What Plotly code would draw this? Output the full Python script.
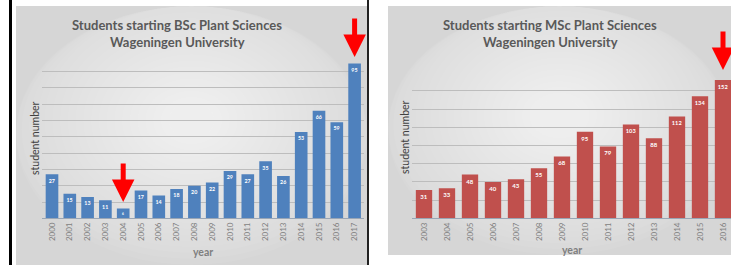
import plotly.graph_objects as go

# ---------------- data ----------------
bsc_years = ['2000', '2001', '2002', '2003', '2004', '2005', '2006', '2007', '2008',
             '2009', '2010', '2011', '2012', '2013', '2014', '2015', '2016', '2017']
bsc_students = [27, 15, 13, 11, 6, 17, 14, 18, 20, 22, 29, 27, 35, 26, 53, 66, 59, 95]

msc_years = ['2003', '2004', '2005', '2006', '2007', '2008', '2009',
             '2010', '2011', '2012', '2013', '2014', '2015', '2016']
msc_students = [31, 33, 48, 40, 43, 55, 68, 95, 79, 103, 88, 112, 134, 152]

bsc_title = 'Students starting BSc Plant Sciences'
msc_title = 'Students starting MSc Plant Sciences'
subtitle = 'Wageningen University'
y_title = 'student number'
x_title = 'year'

# highlighted years (red arrows)
bsc_marked = ['2004', '2017']
msc_marked = ['2016']

# ---------------- layout helpers ----------------
W, H = 731, 265
FONT = 'Lato, "Open Sans", sans-serif'
TXT = '#595959'


def px(x):
    return x / W


def py(y):
    return 1 - y / H


fig = go.Figure()

fig.add_trace(go.Bar(
    x=bsc_years, y=bsc_students, xaxis='x', yaxis='y',
    marker=dict(color='#4f81bd', line=dict(width=0)),
    text=[str(v) for v in bsc_students], textposition='inside',
    insidetextanchor='end', textangle=0,
    textfont=dict(color='white', size=6, family=FONT, weight='bold'),
    showlegend=False, hoverinfo='x+y',
))
fig.add_trace(go.Bar(
    x=msc_years, y=msc_students, xaxis='x2', yaxis='y2',
    marker=dict(color='#c0504d', line=dict(width=0)),
    text=[str(v) for v in msc_students], textposition='inside',
    insidetextanchor='end', textangle=0,
    textfont=dict(color='white', size=6, family=FONT, weight='bold'),
    showlegend=False, hoverinfo='x+y',
))

# panel geometry (pixels)
L = dict(x0=16, x1=367, y0=6, y1=265)
R = dict(x0=388, x1=731, y0=6, y1=255)

shapes = []


def panel(p):
    shapes.append(dict(type='rect', xref='paper', yref='paper', layer='below',
                       x0=px(p['x0']), x1=px(p['x1']), y0=py(p['y1']), y1=py(p['y0']),
                       fillcolor='#d6d6d6', line=dict(width=0)))
    cx = (p['x0'] + p['x1']) / 2
    cy = (p['y0'] + p['y1']) / 2 - 15
    hw = (p['x1'] - p['x0']) / 2 + 10
    hh = (p['y1'] - p['y0']) / 2 + 15
    n = 24
    for i in range(n):
        f = 1.0 - i / n
        shapes.append(dict(type='circle', xref='paper', yref='paper', layer='below',
                           x0=px(max(cx - hw * f, p['x0'])), x1=px(min(cx + hw * f, p['x1'])),
                           y0=py(min(cy + hh * f, p['y1'])), y1=py(max(cy - hh * f, p['y0'])),
                           fillcolor='rgba(255,255,255,0.055)', line=dict(width=0)))


panel(L)
panel(R)
# black frame lines of the left picture
shapes.append(dict(type='rect', xref='paper', yref='paper', layer='above',
                   x0=px(9), x1=px(12), y0=0, y1=1, fillcolor='black', line=dict(width=0)))
shapes.append(dict(type='rect', xref='paper', yref='paper', layer='above',
                   x0=px(367), x1=px(369), y0=0, y1=1, fillcolor='#222', line=dict(width=0)))

# axes geometry
base = 218.3
bsc_step = 17.8   # px per category
bsc_c0 = 52       # px of first category
bsc_x0, bsc_x1 = 42, 364
msc_step = 23.0
msc_c0 = 424
msc_x0, msc_x1 = 412, 731

annotations = []


def titles(cx, t1):
    annotations.append(dict(xref='paper', yref='paper', x=px(cx), y=py(25), text='<b>' + t1 + '</b>',
                            showarrow=False, xanchor='center', yanchor='middle',
                            font=dict(family=FONT, size=13, color=TXT)))
    annotations.append(dict(xref='paper', yref='paper', x=px(cx), y=py(42), text='<b>' + subtitle + '</b>',
                            showarrow=False, xanchor='center', yanchor='middle',
                            font=dict(family=FONT, size=13, color=TXT)))


def axis_titles(ytx, yty, xtx, xty):
    annotations.append(dict(xref='paper', yref='paper', x=px(ytx), y=py(yty), text=y_title,
                            showarrow=False, textangle=-90, xanchor='center', yanchor='middle',
                            font=dict(family=FONT, size=10.5, color='#404040')))
    annotations.append(dict(xref='paper', yref='paper', x=px(xtx), y=py(xty), text='<b>' + x_title + '</b>',
                            showarrow=False, xanchor='center', yanchor='middle',
                            font=dict(family=FONT, size=10.5, color='#7f7f7f')))


titles(177, bsc_title)
titles(550, msc_title)
axis_titles(35, 138, 203, 252)
axis_titles(405, 137, 572, 250)


def arrow(xref, cats, cat, tip_px):
    annotations.append(dict(xref=xref, yref='paper', x=cats.index(cat), y=py(tip_px), ax=0, ay=-40,
                            axref='pixel', ayref='pixel',
                            showarrow=True, arrowhead=2, arrowsize=0.9, arrowwidth=5,
                            arrowcolor='#ff0000', text=''))


arrow('x', bsc_years, bsc_marked[0], 202)
arrow('x', bsc_years, bsc_marked[1], 57)
arrow('x2', msc_years, msc_marked[0], 70)

bsc_top = base - 100 * 1.63
msc_top = base - 160 * 0.91

common_x = dict(type='category', showgrid=False, zeroline=False, showline=True,
                linecolor='#9aa6b6', linewidth=1, ticks='', tickangle=-90, automargin=False,
                tickfont=dict(family=FONT, size=8, color='#7f7f7f'), fixedrange=True)
common_y = dict(showgrid=True, gridcolor='#bdbdbd', gridwidth=1, zeroline=False, automargin=False,
                showticklabels=False, ticks='', showline=False, fixedrange=True)

fig.update_layout(
    width=W, height=H, margin=dict(l=0, r=0, t=0, b=0, autoexpand=False),
    paper_bgcolor='white', plot_bgcolor='rgba(0,0,0,0)',
    bargap=0.29, showlegend=False,
    font=dict(family=FONT, color=TXT),
    xaxis=dict(common_x, domain=[px(bsc_x0), px(bsc_x1)],
               range=[(bsc_x0 - bsc_c0) / bsc_step, (bsc_x1 - bsc_c0) / bsc_step],
               anchor='y'),
    yaxis=dict(common_y, domain=[py(base), py(bsc_top)], range=[0, 100], dtick=10, anchor='x'),
    xaxis2=dict(common_x, domain=[px(msc_x0), px(msc_x1)],
                range=[(msc_x0 - msc_c0) / msc_step, (msc_x1 - msc_c0) / msc_step],
                anchor='y2'),
    yaxis2=dict(common_y, domain=[py(base), py(msc_top)], range=[0, 160], dtick=20, anchor='x2'),
    shapes=shapes,
    annotations=annotations,
)

post = ("var s=document.createElement('style');"
        "s.textContent='html,body{margin:0;padding:0;overflow:hidden;scrollbar-width:none;}"
        "::-webkit-scrollbar{display:none;width:0;height:0;}';"
        "document.head.appendChild(s);"
        "var g=document.getElementById('{plot_id}');"
        "g.style.position='fixed';g.style.left='0px';g.style.top='0px';")

fig.write_html(
    'out.html',
    config={'displayModeBar': False, 'staticPlot': True},
    post_script=post,
)
